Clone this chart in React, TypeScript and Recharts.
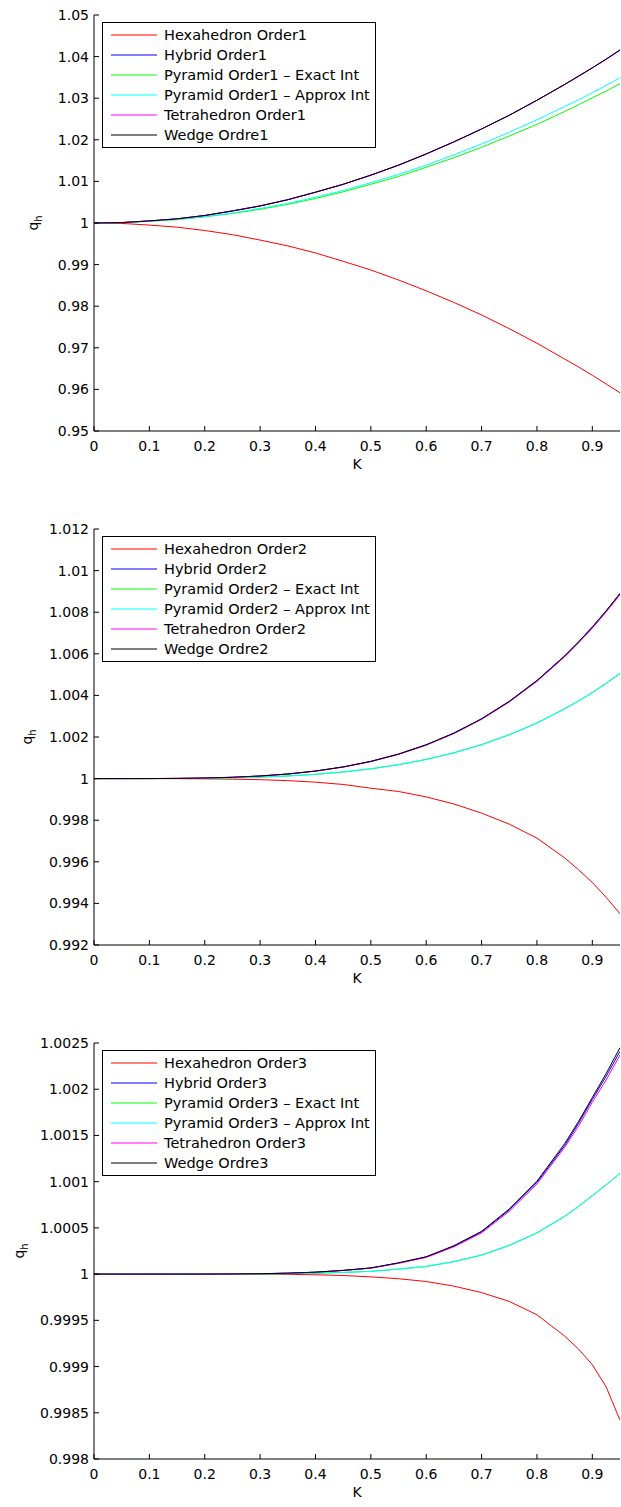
import { Legend, Line, LineChart, XAxis, YAxis } from 'recharts'

const FONT = '"DejaVu Sans", Arial, sans-serif'

// K sampling shared by all three panels (denser near the end where curves bend)
const K = [0, 0.05, 0.1, 0.15, 0.2, 0.25, 0.3, 0.35, 0.4, 0.45, 0.5, 0.55, 0.6, 0.65, 0.7, 0.75, 0.8, 0.85, 0.875, 0.9, 0.925, 0.95]
const X_TICKS = [0, 0.1, 0.2, 0.3, 0.4, 0.5, 0.6, 0.7, 0.8, 0.9]

// Order 1
const hexa1 = [1, 0.9999, 0.9995, 0.999, 0.9982, 0.9972, 0.9959, 0.9945, 0.9928, 0.9908, 0.9887, 0.9863, 0.9837, 0.9809, 0.9779, 0.9746, 0.9711, 0.9673, 0.9654, 0.9634, 0.9613, 0.9592]
const hybrid1 = [1, 1.0001, 1.0005, 1.001, 1.0018, 1.0029, 1.0041, 1.0056, 1.0074, 1.0093, 1.0115, 1.0139, 1.0166, 1.0195, 1.0226, 1.0259, 1.0295, 1.0333, 1.0353, 1.0373, 1.0394, 1.0416]
const pyrExact1 = [1, 1.0001, 1.0004, 1.0008, 1.0015, 1.0023, 1.0033, 1.0045, 1.0059, 1.0075, 1.0093, 1.0112, 1.0134, 1.0157, 1.0182, 1.0209, 1.0237, 1.0268, 1.0284, 1.0301, 1.0317, 1.0335]
const pyrApprox1 = [1, 1.0001, 1.0004, 1.0009, 1.0015, 1.0024, 1.0035, 1.0047, 1.0062, 1.0078, 1.0097, 1.0117, 1.0139, 1.0164, 1.019, 1.0218, 1.0248, 1.028, 1.0296, 1.0313, 1.0331, 1.0349]
const tetra1 = [1, 1.0001, 1.0005, 1.001, 1.0018, 1.0029, 1.0041, 1.0056, 1.0074, 1.0093, 1.0115, 1.0139, 1.0166, 1.0195, 1.0226, 1.0259, 1.0295, 1.0333, 1.0352, 1.0373, 1.0393, 1.0415]
const wedge1 = [1, 1.0001, 1.0005, 1.001, 1.0018, 1.0029, 1.0041, 1.0056, 1.0074, 1.0093, 1.0115, 1.0139, 1.0166, 1.0195, 1.0226, 1.0259, 1.0295, 1.0333, 1.0353, 1.0373, 1.0394, 1.0416]
const yTicks1 = [0.95, 0.96, 0.97, 0.98, 0.99, 1, 1.01, 1.02, 1.03, 1.04, 1.05]

// Order 2
const hexa2 = [1, 1, 1, 0.999997, 0.999989, 0.999973, 0.999949, 0.999902, 0.999828, 0.999718, 0.999538, 0.99938, 0.99912, 0.99878, 0.99834, 0.99781, 0.99714, 0.99619, 0.99562, 0.99501, 0.99429, 0.9935]
const hybrid2 = [1, 1, 1.000002, 1.00001, 1.000028, 1.000064, 1.000125, 1.000221, 1.000363, 1.000561, 1.000828, 1.001178, 1.001625, 1.002185, 1.002875, 1.003711, 1.004713, 1.005898, 1.006565, 1.007287, 1.008064, 1.0089]
const pyrExact2 = [1, 1, 1.000001, 1.000005, 1.000016, 1.000036, 1.000071, 1.000125, 1.000206, 1.000318, 1.00047, 1.000668, 1.000922, 1.00124, 1.00163, 1.00211, 1.00267, 1.00335, 1.003725, 1.00413, 1.004576, 1.00505]
const pyrApprox2 = [1, 1, 1.000001, 1.000005, 1.000016, 1.000036, 1.000071, 1.000125, 1.000206, 1.000318, 1.00047, 1.000668, 1.000922, 1.00124, 1.00163, 1.00211, 1.00267, 1.00336, 1.003735, 1.00414, 1.004588, 1.00507]
const tetra2 = [1, 1, 1.000002, 1.00001, 1.000028, 1.000063, 1.000123, 1.000218, 1.000358, 1.000554, 1.000818, 1.001165, 1.001608, 1.002163, 1.002848, 1.003678, 1.004672, 1.005848, 1.00652, 1.007226, 1.00801, 1.00883]
const wedge2 = [1, 1, 1.000002, 1.00001, 1.000028, 1.000064, 1.000125, 1.000221, 1.000363, 1.000561, 1.000828, 1.001178, 1.001625, 1.002185, 1.002875, 1.003711, 1.004713, 1.005898, 1.006565, 1.007287, 1.008064, 1.0089]
const yTicks2 = [0.992, 0.994, 0.996, 0.998, 1, 1.002, 1.004, 1.006, 1.008, 1.01, 1.012]

// Order 3
const hexa3 = [1, 1, 1, 1, 1, 1, 0.999999, 0.999997, 0.999993, 0.999985, 0.99997, 0.99995, 0.99992, 0.99987, 0.9998, 0.999705, 0.99956, 0.99933, 0.99919, 0.99902, 0.99878, 0.99842]
const hybrid3 = [1, 1, 1, 1.0000001, 1.0000005, 1.0000016, 1.0000043, 1.00001, 1.000021, 1.00004, 1.000066, 1.00012, 1.000185, 1.000302, 1.000456, 1.000694, 1.000992, 1.00139, 1.00163, 1.00189, 1.00214, 1.00241]
const pyrExact3 = [1, 1, 1, 1, 1.0000002, 1.0000007, 1.0000019, 1.0000045, 1.0000094, 1.000018, 1.00003, 1.000054, 1.000083, 1.000135, 1.000205, 1.000311, 1.000445, 1.000624, 1.00073, 1.000848, 1.000965, 1.00109]
const pyrApprox3 = [1, 1, 1, 1, 1.0000002, 1.0000007, 1.0000019, 1.0000045, 1.0000094, 1.000018, 1.00003, 1.000054, 1.000083, 1.000135, 1.000205, 1.000311, 1.000446, 1.000626, 1.000732, 1.00085, 1.000967, 1.00109]
const tetra3 = [1, 1, 1, 1.0000001, 1.0000005, 1.0000016, 1.0000042, 1.00001, 1.00002, 1.000039, 1.000064, 1.000117, 1.00018, 1.000295, 1.000446, 1.00068, 1.000975, 1.00137, 1.0016, 1.00186, 1.0021, 1.00237]
const wedge3 = [1, 1, 1, 1.0000001, 1.0000005, 1.0000016, 1.0000044, 1.00001, 1.000021, 1.00004, 1.000067, 1.000122, 1.000188, 1.000307, 1.000463, 1.000704, 1.001005, 1.00141, 1.00165, 1.00191, 1.00217, 1.00245]
const yTicks3 = [0.998, 0.9985, 0.999, 0.9995, 1, 1.0005, 1.001, 1.0015, 1.002, 1.0025]

const SERIES = [
  { key: 'hexa', color: '#ff0000', label: (n: number) => `Hexahedron Order${n}` },
  { key: 'hybrid', color: '#0000ff', label: (n: number) => `Hybrid Order${n}` },
  { key: 'pyrExact', color: '#00ff00', label: (n: number) => `Pyramid Order${n} – Exact Int` },
  { key: 'pyrApprox', color: '#00ffff', label: (n: number) => `Pyramid Order${n} – Approx Int` },
  { key: 'tetra', color: '#ff00ff', label: (n: number) => `Tetrahedron Order${n}` },
  { key: 'wedge', color: '#000000', label: (n: number) => `Wedge Ordre${n}` },
]

interface Panel {
  order: number
  height: number
  yDomain: [number, number]
  yTicks: number[]
  labelX: number
  values: Record<string, number[]>
}

const PANELS: Panel[] = [
  {
    order: 1,
    height: 514,
    yDomain: [0.95, 1.05],
    yTicks: yTicks1,
    labelX: 38,
    values: { hexa: hexa1, hybrid: hybrid1, pyrExact: pyrExact1, pyrApprox: pyrApprox1, tetra: tetra1, wedge: wedge1 },
  },
  {
    order: 2,
    height: 514,
    yDomain: [0.992, 1.012],
    yTicks: yTicks2,
    labelX: 32,
    values: { hexa: hexa2, hybrid: hybrid2, pyrExact: pyrExact2, pyrApprox: pyrApprox2, tetra: tetra2, wedge: wedge2 },
  },
  {
    order: 3,
    height: 479,
    yDomain: [0.998, 1.0025],
    yTicks: yTicks3,
    labelX: 24,
    values: { hexa: hexa3, hybrid: hybrid3, pyrExact: pyrExact3, pyrApprox: pyrApprox3, tetra: tetra3, wedge: wedge3 },
  },
]

const X_AXIS_H = 40
const PLOT_BOTTOM = 431

// rotated q_h label with subscript
function QhLabel(props: Record<string, unknown>) {
  const { viewBox, labelX } = props as { viewBox?: { y: number; height: number }; labelX: number }
  const cy = viewBox ? viewBox.y + viewBox.height / 2 : 223
  return (
    <text
      transform={`translate(${labelX},${cy}) rotate(-90)`}
      textAnchor="middle"
      fontFamily={FONT}
      fontSize={14}
      fill="#000"
    >
      <tspan>q</tspan>
      <tspan fontSize={10} dy={4}>h</tspan>
    </text>
  )
}

function KLabel(props: Record<string, unknown>) {
  const { viewBox } = props as { viewBox?: { x: number; y: number; width: number } }
  const x = viewBox ? viewBox.x + viewBox.width / 2 : 357
  const y = viewBox ? viewBox.y + 38 : 469
  return (
    <text x={x} y={y} textAnchor="middle" fontFamily={FONT} fontSize={14} fill="#000">
      K
    </text>
  )
}

function LegendBox({ order }: { order: number }) {
  return (
    <div
      style={{
        border: '1.5px solid #000',
        background: '#fff',
        width: 272,
        padding: '2px 0',
        fontFamily: FONT,
        fontSize: 14.5,
        color: '#000',
      }}
    >
      {SERIES.map((s) => (
        <div key={s.key} style={{ display: 'flex', alignItems: 'center', height: 20, whiteSpace: 'nowrap' }}>
          <svg width={46} height={4} style={{ marginLeft: 8, display: 'block' }}>
            <line x1={0} y1={2} x2={46} y2={2} stroke={s.color} strokeWidth={1.2} />
          </svg>
          <span style={{ marginLeft: 7, lineHeight: '20px' }}>{s.label(order)}</span>
        </div>
      ))}
    </div>
  )
}

function QPanel({ panel }: { panel: Panel }) {
  const rows = K.map((k, i) => {
    const row: Record<string, number> = { k }
    SERIES.forEach((s) => {
      row[s.key] = panel.values[s.key][i]
    })
    return row
  })
  const tick = { fill: '#000', fontSize: 14, fontFamily: FONT }
  return (
    <LineChart
      width={621}
      height={panel.height}
      data={rows}
      margin={{ top: 15, right: 1, left: 0, bottom: panel.height - PLOT_BOTTOM - X_AXIS_H }}
    >
      <XAxis
        xAxisId="b"
        dataKey="k"
        type="number"
        domain={[0, 0.95]}
        allowDataOverflow
        ticks={X_TICKS}
        tickFormatter={(v: number) => String(v)}
        height={X_AXIS_H}
        tick={tick}
        tickSize={-5}
        tickMargin={15}
        stroke="#000"
        label={<KLabel />}
      />
      <XAxis
        xAxisId="t"
        orientation="top"
        dataKey="k"
        type="number"
        domain={[0, 0.95]}
        allowDataOverflow
        ticks={X_TICKS}
        height={0}
        tick={false}
        tickSize={-5}
        stroke="#000"
      />
      <YAxis
        yAxisId="l"
        type="number"
        domain={panel.yDomain}
        allowDataOverflow
        ticks={panel.yTicks}
        tickFormatter={(v: number) => String(v)}
        width={94}
        tick={tick}
        tickSize={-5}
        tickMargin={10}
        stroke="#000"
        interval={0}
        label={<QhLabel labelX={panel.labelX} />}
      />
      <YAxis
        yAxisId="r"
        orientation="right"
        type="number"
        domain={panel.yDomain}
        allowDataOverflow
        ticks={panel.yTicks}
        width={0}
        tick={false}
        tickSize={-5}
        stroke="#000"
        interval={0}
      />
      <Legend
        layout="vertical"
        align="center"
        verticalAlign="middle"
        wrapperStyle={{ left: 102, top: 22, width: 'auto', height: 'auto' }}
        content={() => <LegendBox order={panel.order} />}
      />
      {SERIES.map((s) => (
        <Line
          key={s.key}
          xAxisId="b"
          yAxisId="l"
          type="linear"
          dataKey={s.key}
          name={s.label(panel.order)}
          stroke={s.color}
          strokeWidth={1}
          dot={false}
          isAnimationActive={false}
        />
      ))}
    </LineChart>
  )
}

export default function App() {
  return (
    <div style={{ position: 'absolute', left: 0, top: 0, width: 621, height: 1507, background: '#fff' }}>
      {PANELS.map((p) => (
        <div key={p.order} style={{ width: 621, height: p.height }}>
          <QPanel panel={p} />
        </div>
      ))}
    </div>
  )
}
